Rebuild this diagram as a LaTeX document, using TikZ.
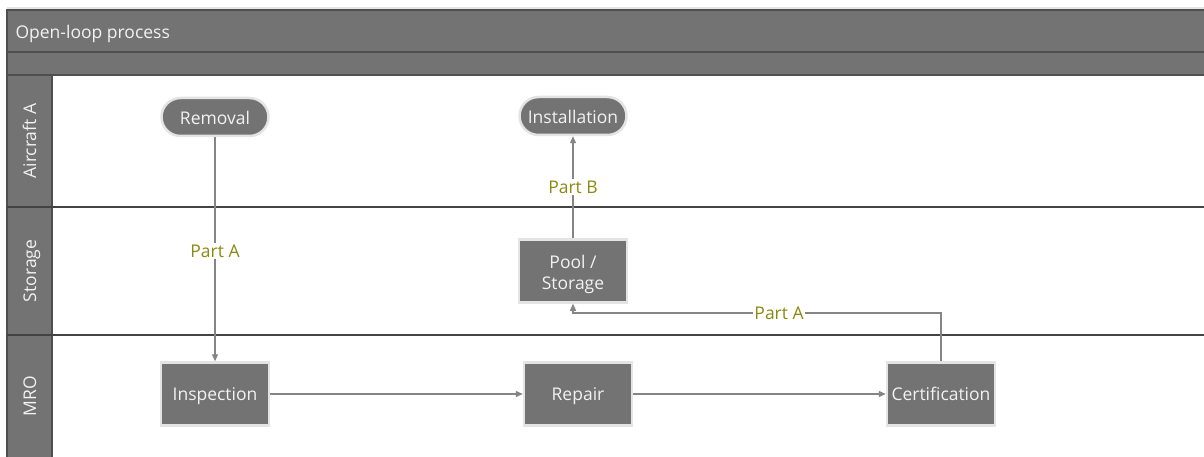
\documentclass[tikz,border=0pt]{standalone}
\usepackage{fontspec}
\setmainfont{Open Sans}
\usetikzlibrary{arrows.meta}
\definecolor{band}{HTML}{737373}
\definecolor{bandline}{HTML}{4F4F4F}
\definecolor{halo}{HTML}{E4E4E4}
\definecolor{flowline}{HTML}{858585}
\definecolor{lbltext}{HTML}{8A8A12}
\definecolor{nodetext}{HTML}{F2F2F2}
\tikzset{
  base font/.style={font=\fontsize{17.5}{21}\selectfont},
  one line/.style={text height=18pt, text depth=2pt},
  bandfill/.style={fill=band, draw=bandline, line width=1.5pt},
  lanesep/.style={draw=bandline!85!black, line width=1.5pt},
  lanetitle/.style={base font, text=nodetext, rotate=90, anchor=center, one line},
  procbox/.style={rectangle, fill=band, draw=halo, line width=2.5pt,
    minimum width=108pt, minimum height=63pt, base font, text=nodetext,
    align=center, inner sep=2pt},
  single/.style={text height=15pt, text depth=2pt},
  terminal/.style={rectangle, rounded corners=19pt, fill=band, draw=halo,
    line width=2.5pt, minimum width=107pt, minimum height=38pt,
    base font, text=nodetext, inner sep=2pt, one line},
  flow/.style={draw=flowline, line width=1.3pt,
    -{Triangle[length=7pt,width=6pt]}},
  flowlabel/.style={fill=white, text=lbltext, base font, inner xsep=1.5pt,
    inner ysep=0pt, text height=14pt, text depth=2pt}
}
\begin{document}
\begin{tikzpicture}[x=1pt,y=-1pt]
  \useasboundingbox (0,0) rectangle (1204,457);
  \fill[white] (0,0) rectangle (1204,457);

  % pool header and sub-header
  \draw[halo, line width=1.5pt] (7,8) -- (1204,8);
  \path[bandfill] (7,10) rectangle (1210,52);
  \path[bandfill] (7,52) rectangle (1210,75);
  \node[base font, text=nodetext, anchor=west, one line] (title) at (12,31) {Open-loop process};

  % lane header column
  \path[bandfill] (7,75) rectangle (52,462);
  \draw[lanesep] (7,207) -- (1210,207);
  \draw[lanesep] (7,335) -- (1210,335);
  \node[lanetitle] (laneA) at (28,141) {Aircraft A};
  \node[lanetitle] (laneS) at (28,271) {Storage};
  \node[lanetitle] (laneM) at (28,396) {MRO};

  % steps
  \node[terminal] (removal) at (215,117) {Removal};
  \node[terminal] (install) at (573,116) {Installation};
  \node[procbox] (pool) at (573,271) {\rule{0pt}{21pt}Pool /\\[0pt]Storage};
  \node[procbox, single] (inspect) at (215,394) {Inspection};
  \node[procbox, single] (repair) at (578,394) {Repair};
  \node[procbox, single] (cert) at (941,394) {Certification};

  % flows
  \draw[flow] (removal) -- node[flowlabel, pos=0.51] {Part A} (inspect);
  \draw[flow] (pool) -- node[flowlabel, pos=0.5] {Part B} (install);
  \draw[flow] (inspect) -- (repair);
  \draw[flow] (repair) -- (cert);
  \coordinate (bendR) at (941,313);
  \coordinate (bendL) at (573,313);
  \draw[flow] (cert.north) -- (bendR) -- node[flowlabel, pos=0.44] {Part A} (bendL) -- (pool.south);
\end{tikzpicture}
\end{document}
